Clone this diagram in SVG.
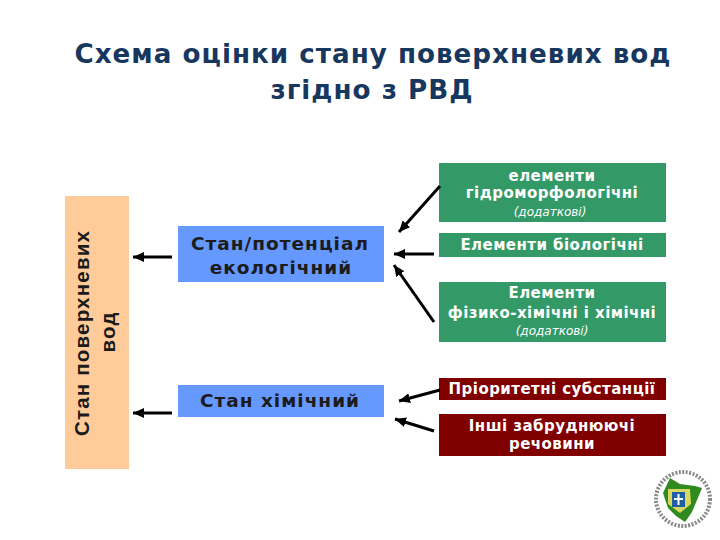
<svg xmlns="http://www.w3.org/2000/svg" width="720" height="540" viewBox="0 0 720 540">
<style>
text{text-anchor:middle;font-family:"DejaVu Sans",sans-serif}
.t{font-size:26.2px;font-weight:700;fill:#17375e;letter-spacing:1px}
.b{font-size:18.5px;font-weight:700;fill:#1c1c1c;letter-spacing:1px}
.w{font-size:15px;font-weight:700;fill:#fff;letter-spacing:.45px}
.i{font-size:12px;font-style:italic;fill:#fff}
.v{font-family:"Liberation Sans",sans-serif;font-size:20.5px;font-weight:700;fill:#1a1a1a;letter-spacing:1.2px}
.g{fill:#339966}.r{fill:#800000}.bl{fill:#6699ff}
.c line{stroke:#000;stroke-width:3}
</style>
<defs><marker id="a" markerUnits="userSpaceOnUse" markerWidth="12" markerHeight="10" refX="11" refY="5" orient="auto"><path d="M0 0L11 5L0 10z"/></marker></defs>
<rect width="720" height="540" fill="#fff"/>
<g id="title">
<text class="t" x="373" y="63">Схема оцінки стану поверхневих вод</text>
<text class="t" x="372" y="99">згідно з РВД</text>
</g>
<g id="n-surface"><rect x="65" y="196" width="64" height="273" fill="#ffcc99"/>
<text class="v" transform="translate(89 333) rotate(-90)">Стан поверхневих</text>
<text class="v" transform="translate(115 332) rotate(-90)">вод</text></g>
<g id="n-eco"><rect class="bl" x="178" y="226" width="206" height="56"/>
<text class="b" x="280" y="250">Стан/потенціал</text><text class="b" x="281" y="274">екологічний</text></g>
<g id="n-chem"><rect class="bl" x="178" y="385" width="206" height="32"/>
<text class="b" x="280" y="407">Стан хімічний</text></g>
<g id="n-hydro"><rect class="g" x="439" y="163" width="227" height="59"/>
<text class="w" x="552" y="181">елементи</text><text class="w" x="552" y="198">гідроморфологічні</text><text class="i" x="550" y="216">(додаткові)</text></g>
<g id="n-bio"><rect class="g" x="439" y="233" width="227" height="24"/>
<text class="w" x="552" y="250">Елементи біологічні</text></g>
<g id="n-phys"><rect class="g" x="439" y="282" width="227" height="60"/>
<text class="w" x="552" y="298">Елементи</text><text class="w" x="552" y="318">фізико-хімічні і хімічні</text><text class="i" x="552" y="335">(додаткові)</text></g>
<g id="n-prio"><rect class="r" x="439" y="378" width="227" height="22"/>
<text class="w" x="552" y="394">Пріоритетні субстанції</text></g>
<g id="n-other"><rect class="r" x="439" y="414" width="227" height="42"/>
<text class="w" x="552" y="431">Інші забруднюючі</text><text class="w" x="552" y="449">речовини</text></g>
<g id="connectors" class="c">
<line x1="172" y1="257" x2="133" y2="257" marker-end="url(#a)"/>
<line x1="172" y1="413" x2="133" y2="413" marker-end="url(#a)"/>
<line x1="440" y1="186" x2="399" y2="232" marker-end="url(#a)"/>
<line x1="434" y1="254" x2="394" y2="254" marker-end="url(#a)"/>
<line x1="434" y1="322" x2="394" y2="265" marker-end="url(#a)"/>
<line x1="440" y1="390" x2="399" y2="401" marker-end="url(#a)"/>
<line x1="434" y1="431" x2="395" y2="419" marker-end="url(#a)"/>
</g>
<g id="logo">
<circle cx="683" cy="499" r="27" fill="none" stroke="#555" stroke-width="4" stroke-dasharray="2 1.5" opacity=".7"/>
<path d="M670 478L680 484L695 486L702 488L697 500L692 512L685 522L676 516L668 508L663 493Z" fill="#2f8a1f"/>
<path d="M668 489H690L691 504L680 513L668 504Z" fill="#d8d860"/>
<rect x="672" y="492" width="13" height="15" fill="#1f5fa8"/>
<path d="M678.500 494V505M674 499H683" stroke="#fff" stroke-width="2"/>
</g>
</svg>
